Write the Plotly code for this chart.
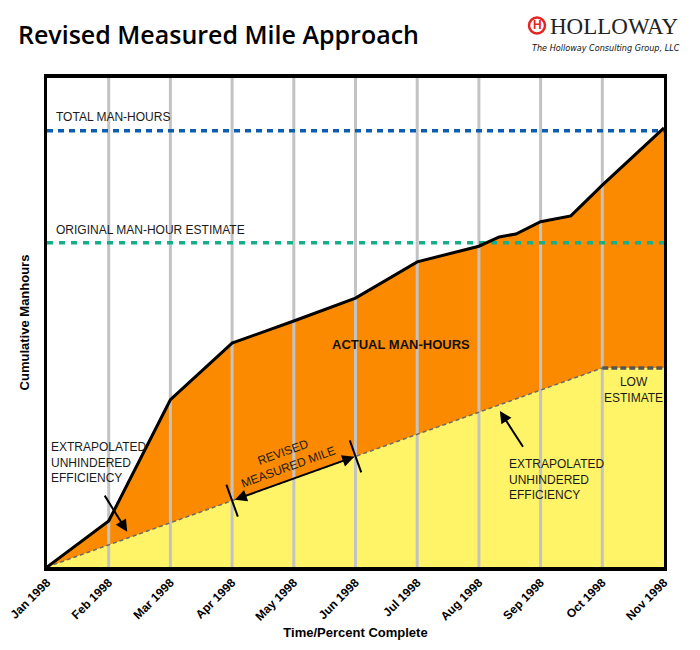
import plotly.graph_objects as go

# ---------------- data ----------------
months = ["Jan 1998", "Feb 1998", "Mar 1998", "Apr 1998", "May 1998", "Jun 1998",
          "Jul 1998", "Aug 1998", "Sep 1998", "Oct 1998", "Nov 1998"]
month_idx = list(range(len(months)))

# actual cumulative man-hours (x in month index, y in relative units)
actual_x = [0, 1, 2, 3, 4, 5, 6, 7, 7.33, 7.6, 8, 8.49, 9, 10]
actual_y = [0, 9.4, 34.2, 45.8, 50.3, 55.0, 62.4, 65.6, 67.5, 68.1, 70.6, 71.8, 78.1, 89.8]

# extrapolated unhindered efficiency, then low estimate
eff_x = [0, 9, 10]
eff_y = [0, 40.7, 40.7]

total_manhours = 89.2
original_estimate = 66.3
revised_mile = [3, 5]   # month indices (Apr -> Jun)

Y_MAX = 100

# ---------------- styles ----------------
ORANGE = "#FC8A00"
YELLOW = "#FFF467"
GRID = "#C3C3C3"
BLUE = "#0B5DB0"
TEAL = "#17AE8A"
NARROW = "Liberation Sans Narrow, Arial Narrow, Liberation Sans, Arial, sans-serif"

# pixel scale (for perpendicular tick marks)
PX_X = 61.7   # px per month
PX_Y = 4.89   # px per unit

fig = go.Figure()

# orange area under actual
fig.add_trace(go.Scatter(x=actual_x, y=actual_y, mode="lines", fill="tozeroy",
                         fillcolor=ORANGE, line=dict(width=0, color=ORANGE),
                         hoverinfo="skip", showlegend=False))
# yellow area under efficiency
fig.add_trace(go.Scatter(x=eff_x, y=eff_y, mode="lines", fill="tozeroy",
                         fillcolor=YELLOW, line=dict(width=0, color=YELLOW),
                         hoverinfo="skip", showlegend=False))
# vertical gridlines
gx, gy = [], []
for m in month_idx[1:-1]:
    gx += [m, m, None]
    gy += [0, Y_MAX, None]
fig.add_trace(go.Scatter(x=gx, y=gy, mode="lines", line=dict(color=GRID, width=3),
                         hoverinfo="skip", showlegend=False))
# extrapolated dashed line
fig.add_trace(go.Scatter(x=eff_x[:2], y=eff_y[:2], mode="lines",
                         line=dict(color="#6A6A6A", width=1.5, dash="4px,3px"),
                         hoverinfo="skip", showlegend=False))
# low estimate
fig.add_trace(go.Scatter(x=eff_x[1:], y=eff_y[1:], mode="lines",
                         line=dict(color="#555555", width=3.5, dash="6px,3px"),
                         hoverinfo="skip", showlegend=False))
# horizontal reference lines
fig.add_trace(go.Scatter(x=[0, 10], y=[total_manhours] * 2, mode="lines",
                         line=dict(color=BLUE, width=3.5, dash="6px,5px"),
                         hoverinfo="skip", showlegend=False))
fig.add_trace(go.Scatter(x=[0, 10], y=[original_estimate] * 2, mode="lines",
                         line=dict(color=TEAL, width=3.5, dash="6px,6px"),
                         hoverinfo="skip", showlegend=False))
# actual line
fig.add_trace(go.Scatter(x=actual_x, y=actual_y, mode="lines",
                         line=dict(color="black", width=3),
                         hoverinfo="skip", showlegend=False))

# revised measured mile: endpoints on efficiency line, perpendicular ticks
slope = eff_y[1] / eff_x[1]
pts = [(m, slope * m) for m in revised_mile]
dxp, dyp = PX_X, -slope * PX_Y          # direction in px (y down)
norm = (dxp ** 2 + dyp ** 2) ** 0.5
px_perp = (-dyp / norm, dxp / norm)     # perpendicular in px
half = 17
for (mx, my) in pts:
    ddx = px_perp[0] * half / PX_X
    ddy = -px_perp[1] * half / PX_Y
    fig.add_shape(type="line", x0=mx - ddx, y0=my - ddy, x1=mx + ddx, y1=my + ddy,
                  line=dict(color="black", width=2), xref="x", yref="y")

fig.add_annotation(x=pts[1][0] - 0.02, y=pts[1][1] - 0.02 * slope,
                   ax=pts[0][0] + 0.02, ay=pts[0][1] + 0.02 * slope,
                   xref="x", yref="y", axref="x", ayref="y", text="",
                   showarrow=True, arrowhead=2, arrowside="end+start",
                   arrowsize=1.2, arrowwidth=2, arrowcolor="black")

# arrows for efficiency labels
fig.add_annotation(x=1.30, y=7.2, ax=0.92, ay=14.9, xref="x", yref="y",
                   axref="x", ayref="y", text="", showarrow=True, arrowhead=2,
                   arrowsize=1.2, arrowwidth=2, arrowcolor="black")
fig.add_annotation(x=7.34, y=31.9, ax=7.73, ay=24.3, xref="x", yref="y",
                   axref="x", ayref="y", text="", showarrow=True, arrowhead=2,
                   arrowsize=1.2, arrowwidth=2, arrowcolor="black")

lab = dict(family=NARROW, size=12, color="#1a1a1a")
fig.add_annotation(x=0.11, y=92.0, text="TOTAL MAN-HOURS", showarrow=False,
                   xanchor="left", yanchor="middle", font=lab)
fig.add_annotation(x=0.11, y=69.0, text="ORIGINAL MAN-HOUR ESTIMATE", showarrow=False,
                   xanchor="left", yanchor="middle", font=lab)
fig.add_annotation(x=5.73, y=45.4, text="<b>ACTUAL MAN-HOURS</b>", showarrow=False,
                   xanchor="center", yanchor="middle",
                   font=dict(family=NARROW, size=13, color="#111111"))
fig.add_annotation(x=9.51, y=36.1, text="LOW<br>ESTIMATE", showarrow=False,
                   xanchor="center", yanchor="middle", align="center", font=lab)
fig.add_annotation(x=0.035, y=21.3, text="EXTRAPOLATED<br>UNHINDERED<br>EFFICIENCY",
                   showarrow=False, xanchor="left", yanchor="middle", align="left",
                   font=lab)
fig.add_annotation(x=7.46, y=17.8, text="EXTRAPOLATED<br>UNHINDERED<br>EFFICIENCY",
                   showarrow=False, xanchor="left", yanchor="middle", align="left",
                   font=lab)
fig.add_annotation(x=3.86, y=21.9, text="REVISED<br>MEASURED MILE", showarrow=False,
                   xanchor="center", yanchor="middle", align="center", textangle=-20,
                   font=lab)

# logo
fig.add_shape(type="circle", xref="paper", yref="paper",
              x0=(529 - 47) / 617, x1=(545 - 47) / 617,
              y0=(567 - 33.5) / 489, y1=(567 - 17.5) / 489,
              line=dict(color="#E52420", width=2.5), fillcolor="white")
fig.add_annotation(x=(537 - 47) / 617, y=(567 - 25.5) / 489, xref="paper", yref="paper",
                   text="<b>H</b>", showarrow=False, xanchor="center", yanchor="middle",
                   font=dict(family="Liberation Sans, Arial", size=12, color="#E52420"))
fig.add_annotation(x=(548 - 47) / 617, y=(567 - 26.5) / 489, xref="paper", yref="paper",
                   text="HOLLOWAY", showarrow=False, xanchor="left", yanchor="middle",
                   font=dict(family="Liberation Serif, Times New Roman, serif", size=23,
                             color="#222222"))
fig.add_annotation(x=(682 - 47) / 617, y=(567 - 48) / 489, xref="paper", yref="paper",
                   text="<i>The Holloway Consulting Group, LLC</i>", showarrow=False,
                   xanchor="right", yanchor="middle",
                   font=dict(family="DejaVu Sans Condensed, DejaVu Sans, sans-serif",
                             size=9, color="#111111"))

fig.update_layout(
    width=700, height=650,
    margin=dict(l=47, r=36, t=78, b=83),
    paper_bgcolor="white", plot_bgcolor="white",
    title=dict(text="Revised Measured Mile Approach", x=18 / 700, xanchor="left",
               xref="container", y=1 - 35 / 650, yanchor="middle",
               font=dict(family="Open Sans, DejaVu Sans, sans-serif", size=25,
                         color="black", weight=600)),
    xaxis=dict(range=[0, 10], tickvals=month_idx, ticktext=months, tickangle=-45,
               showgrid=False, zeroline=False, showline=True, linecolor="black",
               linewidth=4, mirror=True, ticks="", automargin=False,
               tickfont=dict(family="Liberation Sans, Arial", size=12, color="black",
                             weight="bold"),
               title=dict(text="<b>Time/Percent Complete</b>", standoff=6,
                          font=dict(family=NARROW, size=13, color="black"))),
    yaxis=dict(range=[0, Y_MAX], showticklabels=False, showgrid=False, zeroline=False,
               showline=True, linecolor="black", linewidth=3, mirror=True, ticks="",
               automargin=False,
               title=dict(text="<b>Cumulative Manhours</b>", standoff=12,
                          font=dict(family=NARROW, size=13, color="black"))),
)

fig.write_html("out.html")
